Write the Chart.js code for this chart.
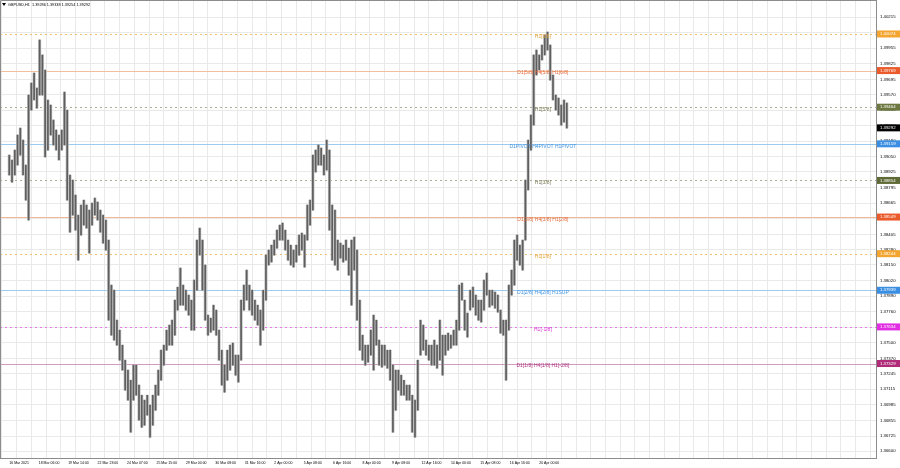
<!DOCTYPE html>
<html>
<head>
<meta charset="utf-8">
<title>GBPUSD,H1</title>
<script src="https://cdn.jsdelivr.net/npm/chart.js@4.4.0/dist/chart.umd.min.js"></script>
<style>
    html, body { margin: 0; padding: 0; background: #ffffff; }
    canvas { display: block; }
</style>
</head>
<body>
<canvas id="chart" width="900" height="468"></canvas>
<script>
const symbolTitle = 'GBPUSD,H1  1.39286 1.39338 1.39254 1.39292';

// one entry for every 3 H1 bars
const barStep = 3;
const highs = [
    1.39065, 1.39024, 1.39107, 1.39232, 1.39290, 1.39190, 1.38982, 1.39565, 1.39665, 1.39749,
    1.39624, 1.40024, 1.39899, 1.39774, 1.39524, 1.39482, 1.39357, 1.39274, 1.39232, 1.39274,
    1.39590, 1.39440, 1.38899, 1.38857, 1.38732, 1.38565, 1.38649, 1.38690, 1.38649, 1.38607,
    1.38665, 1.38707, 1.38674, 1.38607, 1.38565, 1.38524, 1.38357, 1.37982, 1.37940, 1.37690,
    1.37607, 1.37482, 1.37357, 1.37274, 1.37190, 1.37315, 1.37315, 1.37149, 1.37065, 1.37024,
    1.37065, 1.36982, 1.37065, 1.37149, 1.37274, 1.37440, 1.37482, 1.37607, 1.37649, 1.37690,
    1.37857, 1.37965, 1.38124, 1.37982, 1.37940, 1.37899, 1.37857, 1.38024, 1.38357, 1.38457,
    1.38357, 1.38149, 1.37732, 1.37707, 1.37815, 1.37774, 1.37607, 1.37440, 1.37315, 1.37440,
    1.37482, 1.37499, 1.37399, 1.37399, 1.37857, 1.37982, 1.38107, 1.37982, 1.37940, 1.37857,
    1.37815, 1.37774, 1.37940, 1.38232, 1.38274, 1.38315, 1.38357, 1.38440, 1.38482, 1.38499,
    1.38440, 1.38357, 1.38315, 1.38274, 1.38315, 1.38399, 1.38415, 1.38399, 1.38649, 1.38690,
    1.39065, 1.39107, 1.39149, 1.39124, 1.39065, 1.39190, 1.39107, 1.38649, 1.38607, 1.38357,
    1.38332, 1.38315, 1.38357, 1.38290, 1.38357, 1.38382, 1.38274, 1.37857, 1.37565, 1.37482,
    1.37482, 1.37607, 1.37732, 1.37690, 1.37524, 1.37482, 1.37482, 1.37440, 1.37440, 1.37315,
    1.37274, 1.37274, 1.37232, 1.37190, 1.37149, 1.37149, 1.37065, 1.37024, 1.37357, 1.37690,
    1.37649, 1.37524, 1.37482, 1.37482, 1.37524, 1.37482, 1.37690, 1.37565, 1.37565, 1.37582,
    1.37565, 1.37607, 1.37690, 1.37982, 1.37999, 1.37857, 1.37749, 1.37940, 1.37965, 1.37899,
    1.37857, 1.37857, 1.38024, 1.38082, 1.37940, 1.37940, 1.37924, 1.37899, 1.37774, 1.37690,
    1.37690, 1.37982, 1.38107, 1.38357, 1.38399, 1.38315, 1.38357, 1.38857, 1.39190, 1.39399,
    1.39899, 1.39940, 1.39899, 1.39982, 1.40065, 1.40090, 1.39982, 1.39732, 1.39565, 1.39540,
    1.39482, 1.39524, 1.39499
];
const lows = [
    1.38899, 1.38840, 1.38899, 1.38982, 1.39065, 1.38899, 1.38690, 1.38524, 1.39440, 1.39524,
    1.39457, 1.39565, 1.39565, 1.39049, 1.39107, 1.39232, 1.39149, 1.39107, 1.39024, 1.39107,
    1.39149, 1.38690, 1.38423, 1.38565, 1.38440, 1.38190, 1.38399, 1.38482, 1.38457, 1.38249,
    1.38482, 1.38565, 1.38524, 1.38423, 1.38332, 1.38274, 1.37690, 1.37565, 1.37524, 1.37482,
    1.37357, 1.37274, 1.37107, 1.37024, 1.36757, 1.37024, 1.37065, 1.36857, 1.36798, 1.36815,
    1.36899, 1.36715, 1.36815, 1.36940, 1.37065, 1.37190, 1.37315, 1.37440, 1.37482, 1.37482,
    1.37565, 1.37774, 1.37815, 1.37815, 1.37774, 1.37732, 1.37607, 1.37607, 1.37940, 1.38232,
    1.37940, 1.37690, 1.37565, 1.37590, 1.37607, 1.37565, 1.37357, 1.37149, 1.37090, 1.37190,
    1.37274, 1.37315, 1.37232, 1.37174, 1.37357, 1.37774, 1.37857, 1.37774, 1.37732, 1.37690,
    1.37649, 1.37482, 1.37607, 1.37857, 1.38149, 1.38174, 1.38232, 1.38290, 1.38357, 1.38357,
    1.38274, 1.38190, 1.38149, 1.38132, 1.38174, 1.38232, 1.38274, 1.38132, 1.38357, 1.38482,
    1.38607, 1.38924, 1.38982, 1.38982, 1.38899, 1.38940, 1.38440, 1.38190, 1.38149, 1.38107,
    1.38207, 1.38174, 1.38190, 1.38065, 1.37815, 1.38107, 1.37690, 1.37440, 1.37357, 1.37315,
    1.37340, 1.37399, 1.37274, 1.37482, 1.37315, 1.37299, 1.37315, 1.37290, 1.37190, 1.36757,
    1.36940, 1.37107, 1.37065, 1.37065, 1.37024, 1.37024, 1.36757, 1.36715, 1.36940, 1.37399,
    1.37440, 1.37399, 1.37357, 1.37315, 1.37315, 1.37290, 1.37357, 1.37232, 1.37399, 1.37440,
    1.37457, 1.37482, 1.37482, 1.37607, 1.37857, 1.37607, 1.37549, 1.37774, 1.37799, 1.37732,
    1.37690, 1.37674, 1.37774, 1.37899, 1.37799, 1.37815, 1.37790, 1.37757, 1.37582, 1.37565,
    1.37190, 1.37607, 1.37899, 1.37982, 1.38190, 1.38149, 1.38107, 1.38357, 1.38774, 1.39107,
    1.39315, 1.39732, 1.39774, 1.39857, 1.39899, 1.39940, 1.39690, 1.39524, 1.39440, 1.39399,
    1.39315, 1.39340, 1.39290
];
const lastPrice = 1.39292;

// one label every 32 bars
const timeLabels = [
    '16 Mar 2021', '18 Mar 06:00', '19 Mar 14:00', '22 Mar 23:00', '24 Mar 07:00',
    '25 Mar 15:00', '29 Mar 00:00', '30 Mar 08:00', '31 Mar 16:00', '2 Apr 00:00',
    '5 Apr 08:00', '6 Apr 16:00', '8 Apr 00:00', '9 Apr 08:00', '12 Apr 16:00',
    '14 Apr 00:00', '15 Apr 08:00', '16 Apr 16:00', '20 Apr 00:00'
];
const priceTicks = [
    1.40215, 1.40085, 1.39955, 1.39825, 1.39695, 1.39570, 1.39440, 1.39310, 1.39180, 1.39050,
    1.38925, 1.38795, 1.38665, 1.38535, 1.38405, 1.38280, 1.38150, 1.38020, 1.37890, 1.37760,
    1.37630, 1.37500, 1.37370, 1.37245, 1.37115, 1.36985, 1.36855, 1.36725, 1.36600
];

const levelValues = [1.40074, 1.39769, 1.39464, 1.39159, 1.38854, 1.38549, 1.38244, 1.37939, 1.37634, 1.37329];
const levelNames = [
    'H1[8/8]', 'D1[5/8] H4[5/8] H1[6/8]', 'H1[5/8]', 'D1PIVOT H4PIVOT H1PIVOT', 'H1[3/8]',
    'D1[3/8] H4[3/8] H1[2/8]', 'H1[1/8]', 'D1[2/8] H4[2/8] H1SUP', 'H1[-1/8]', 'D1[1/8] H4[1/8] H1[-2/8]'
];

const levelStyles = [
    { line: '#f0c070', dash: [2, 3], text: '#dba443', box: '#f3a530' },
    { line: '#f2bf9c', dash: [], text: '#e46b3b', box: '#ea5a2a' },
    { line: '#aeac90', dash: [2, 3], text: '#777a55', box: '#6c7840' },
    { line: '#9ccbf2', dash: [], text: '#3f93e2', box: '#3a8fe3' },
    { line: '#aeac90', dash: [2, 3], text: '#777a55', box: '#5f6b36' },
    { line: '#f2b896', dash: [], text: '#e46b3b', box: '#ea5a2a' },
    { line: '#f0c070', dash: [2, 3], text: '#e8a33a', box: '#f3a530' },
    { line: '#9ccbf2', dash: [], text: '#3f93e2', box: '#3a8fe3' },
    { line: '#e77ae7', dash: [2, 3], text: '#d82fd8', box: '#e22ee2' },
    { line: '#cf9cc0', dash: [], text: '#b0307d', box: '#b02a78' }
];

const FONT = "'Liberation Sans', Arial, sans-serif";
const LABEL_BAR = 580;

const candles = highs.map((h, i) => ({ x: i * barStep, y: [lows[i], h] }));

const levelsPlugin = {
    id: 'levels',
    beforeDatasetsDraw(chart) {
        const { ctx, chartArea, scales } = chart;
        ctx.save();
        ctx.lineWidth = 1;
        levelValues.forEach((v, i) => {
            const py = Math.round(scales.y.getPixelForValue(v)) + 0.5;
            ctx.strokeStyle = levelStyles[i].line;
            ctx.setLineDash(levelStyles[i].dash);
            ctx.beginPath();
            ctx.moveTo(chartArea.left, py);
            ctx.lineTo(chartArea.right, py);
            ctx.stroke();
        });
        ctx.restore();
    },
    afterDatasetsDraw(chart) {
        const { ctx, scales } = chart;
        const lx = scales.x.getPixelForValue(LABEL_BAR);
        ctx.save();
        ctx.font = '5px ' + FONT;
        ctx.textAlign = 'center';
        ctx.textBaseline = 'middle';
        levelValues.forEach((v, i) => {
            const py = scales.y.getPixelForValue(v);
            ctx.fillStyle = levelStyles[i].text;
            ctx.fillText(levelNames[i], lx, py + 2.5);
        });
        ctx.restore();
    },
    afterDraw(chart) {
        const { ctx, chartArea, scales } = chart;
        ctx.save();

        // frame
        ctx.strokeStyle = '#8c8c8c';
        ctx.lineWidth = 1;
        ctx.beginPath();
        ctx.moveTo(chartArea.left + 0.5, chartArea.bottom);
        ctx.lineTo(chartArea.left + 0.5, chartArea.top + 0.5);
        ctx.lineTo(chartArea.right, chartArea.top + 0.5);
        ctx.stroke();

        // price boxes on the right scale
        ctx.font = '4.3px ' + FONT;
        ctx.textAlign = 'left';
        ctx.textBaseline = 'middle';
        const drawBox = (v, bg) => {
            const py = scales.y.getPixelForValue(v);
            ctx.fillStyle = bg;
            ctx.fillRect(chartArea.right + 1, py - 3.5, 23, 7);
            ctx.fillStyle = '#ffffff';
            ctx.fillText(v.toFixed(5), chartArea.right + 4, py);
        };
        levelValues.forEach((v, i) => drawBox(v, levelStyles[i].box));
        drawBox(lastPrice, '#000000');

        // title
        ctx.fillStyle = '#000000';
        ctx.beginPath();
        ctx.moveTo(2, 3);
        ctx.lineTo(6, 3);
        ctx.lineTo(4, 6);
        ctx.closePath();
        ctx.fill();
        ctx.font = '3.8px ' + FONT;
        ctx.fillText(symbolTitle, 8, 5);
        ctx.restore();
    }
};

new Chart(document.getElementById('chart'), {
    type: 'bar',
    data: {
        datasets: [
            {
                data: candles,
                backgroundColor: '#5e5e5e',
                barThickness: 1,
                grouped: false
            },
            {
                data: candles,
                backgroundColor: '#bdbdbd',
                barThickness: 2.4,
                grouped: false
            }
        ]
    },
    options: {
        responsive: false,
        animation: false,
        events: [],
        layout: { padding: 0 },
        plugins: {
            legend: { display: false },
            tooltip: { enabled: false }
        },
        scales: {
            x: {
                type: 'linear',
                min: -2,
                max: 934,
                afterBuildTicks: (scale) => {
                    const ticks = [];
                    for (let b = 0; b <= 928; b += 16) ticks.push({ value: b });
                    scale.ticks = ticks;
                },
                afterFit: (scale) => {
                    scale.height = 10;
                    scale.paddingLeft = 0;
                    scale.paddingRight = 0;
                },
                ticks: {
                    autoSkip: false,
                    maxRotation: 0,
                    align: 'start',
                    padding: 3,
                    color: '#000000',
                    font: { family: FONT, size: 3.5 },
                    callback: (value) => value % 32 === 0 ? (timeLabels[value / 32] || '') : ''
                },
                grid: { color: '#e9e9e9', drawTicks: false },
                border: { display: true, color: '#8c8c8c' }
            },
            y: {
                type: 'linear',
                position: 'right',
                min: 1.36542,
                max: 1.40357,
                afterBuildTicks: (scale) => {
                    scale.ticks = priceTicks.map(v => ({ value: v }));
                },
                afterFit: (scale) => {
                    scale.width = 24;
                    scale.paddingTop = 0;
                    scale.paddingBottom = 0;
                },
                ticks: {
                    padding: 4,
                    color: '#000000',
                    font: { family: FONT, size: 4.3 },
                    callback: (value) => Number(value).toFixed(5)
                },
                grid: { color: '#e9e9e9', drawTicks: false },
                border: { display: true, color: '#8c8c8c' }
            }
        }
    },
    plugins: [levelsPlugin]
});
</script>
</body>
</html>
